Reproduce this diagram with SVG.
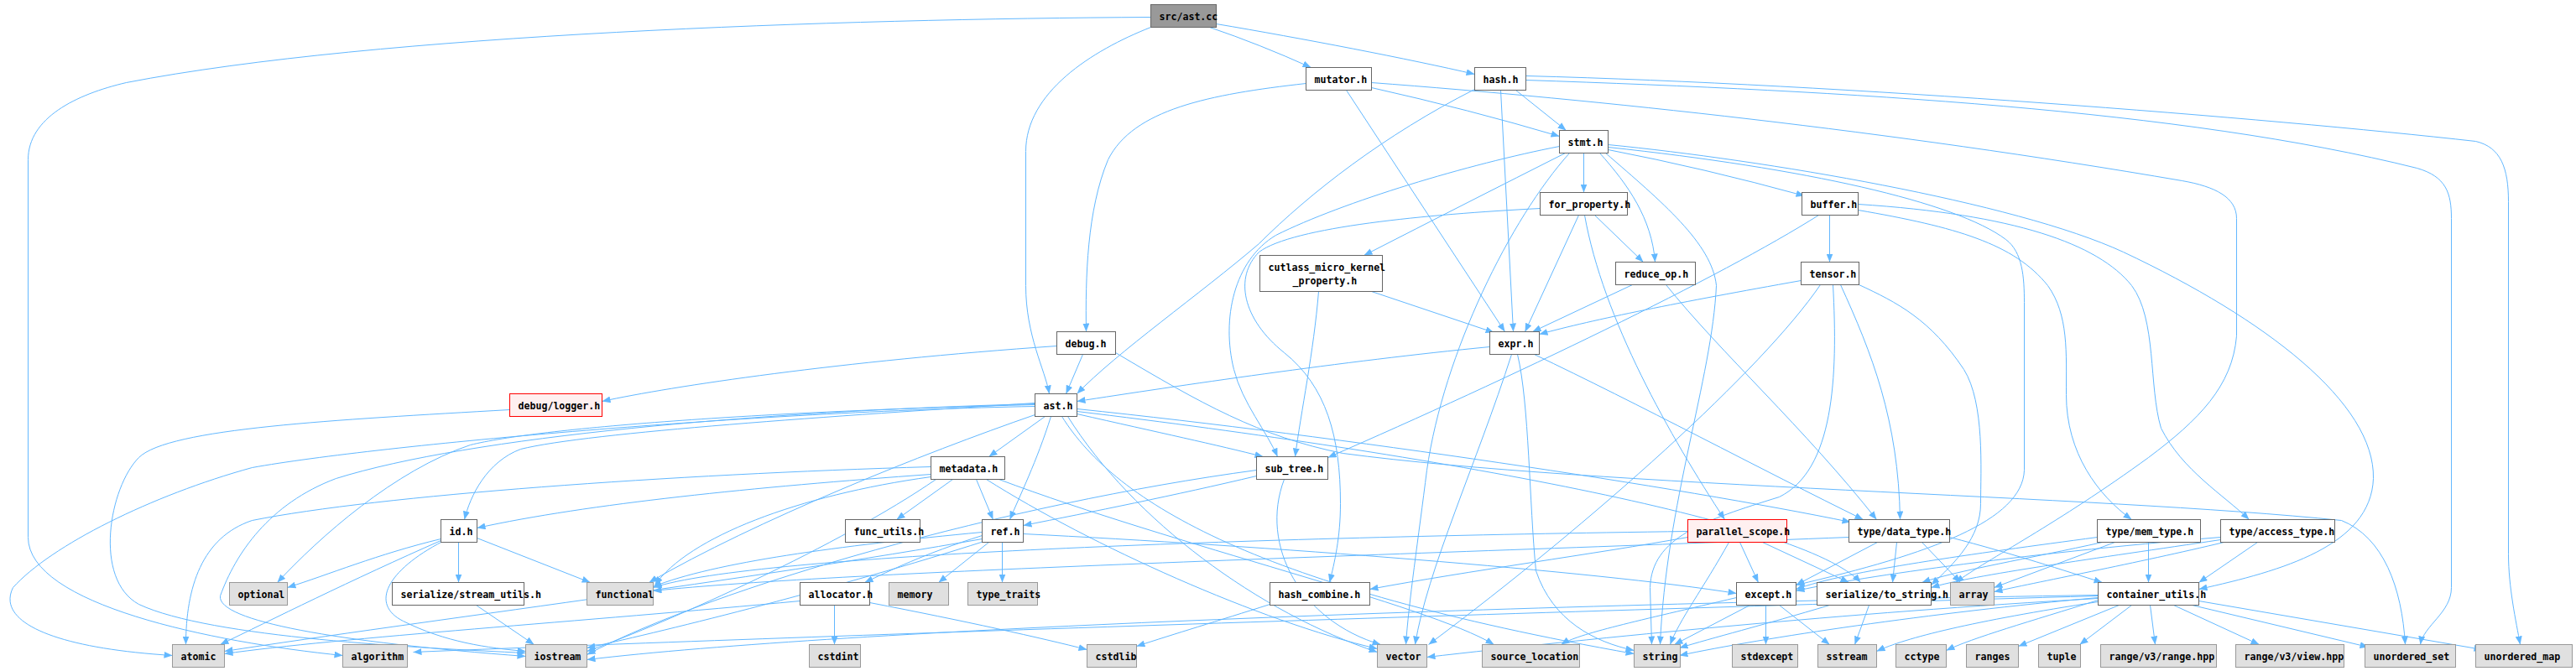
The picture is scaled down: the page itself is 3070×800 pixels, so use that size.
<svg xmlns="http://www.w3.org/2000/svg" width="3070" height="800" viewBox="0 0 3070 800">
<defs>
<marker id="ah" markerUnits="userSpaceOnUse" markerWidth="10" markerHeight="8" viewBox="0 0 10 8" refX="10" refY="4" orient="auto"><path d="M0,0 L10,4 L0,8 z" fill="#63B8FF"/></marker>
<style>
.e path{fill:none;stroke:#63B8FF;stroke-width:1;marker-end:url(#ah)}
.n rect{fill:#FFFFFF;stroke:#666666;stroke-width:1}
.s rect{fill:#E0E0E0;stroke:#999999;stroke-width:1}
.r rect{fill:#FFF0F0;stroke:#FF0000;stroke-width:1}
.root rect{fill:#999999;stroke:#666666;stroke-width:1}
text{font-family:"DejaVu Sans Mono","Liberation Mono",monospace;font-size:11.6px;font-weight:bold;fill:#000000}
</style>
</defs>
<rect x="0" y="0" width="3070" height="800" fill="#FFFFFF"/>
<g transform="translate(0.5,0.5)">
<g id="edges" class="e">
<path d="M1371,20 C1000,22 450,40 150,98 C90,112 33,140 33,190 L33,640 C33,720 250,765 408,781"/>
<path d="M1371,32 C1300,60 1222,110 1222,180 L1222,340 C1222,400 1245,440 1250,469"/>
<path d="M1441,32 Q1500,52 1562,80"/>
<path d="M1449,28 C1550,45 1680,70 1757,88"/>
<path d="M1556,99 C1440,112 1350,130 1320,190 C1295,250 1293,330 1294,395"/>
<path d="M1634,104 Q1750,130 1858,162"/>
<path d="M1604,107 L1793,395"/>
<path d="M1634,98 C1900,118 2250,155 2600,215 C2640,222 2665,235 2665,260 L2665,400 C2660,460 2620,500 2560,545 C2450,625 2370,665 2330,694"/>
<path d="M1806,107 L1866,155"/>
<path d="M1788,107 L1803,395"/>
<path d="M1757,106 C1650,160 1560,230 1500,290 C1430,350 1330,420 1283,469"/>
<path d="M1818,95 C2200,108 2600,130 2880,200 C2915,210 2921,230 2921,260 L2921,700 C2921,730 2888,745 2884,768"/>
<path d="M1818,90 C2200,100 2700,140 2950,168 C2980,175 2989,200 2989,240 L2989,660 C2989,700 2998,740 3003,768"/>
<path d="M1887,182 L1887,229"/>
<path d="M1916,178 Q2030,200 2150,233"/>
<path d="M1865,182 Q1750,240 1625,304"/>
<path d="M1906,182 C1940,220 1968,260 1972,312"/>
<path d="M1870,182 C1800,260 1720,420 1700,560 C1690,640 1678,720 1675,768"/>
<path d="M1913,182 C1980,240 2040,290 2045,340 C2040,450 1985,600 1978,768"/>
<path d="M1916,172 C2100,190 2400,240 2530,300 C2700,380 2830,480 2828,570 C2825,650 2720,680 2620,702"/>
<path d="M1916,175 C2150,200 2330,240 2390,285 C2410,300 2412,330 2412,360 L2412,560 C2410,620 2300,660 2140,697"/>
<path d="M1858,174 C1750,195 1600,240 1520,280 C1470,310 1455,380 1470,440 C1480,480 1510,515 1522,544"/>
<path d="M2180,256 L2180,312"/>
<path d="M2167,256 C2050,330 1800,450 1582,545"/>
<path d="M2214,243 C2400,255 2500,290 2540,340 C2570,380 2560,460 2575,510 C2600,560 2650,590 2680,619"/>
<path d="M2214,250 C2330,270 2400,290 2440,340 C2465,375 2462,420 2462,470 C2462,540 2500,590 2540,619"/>
<path d="M1634,347 L1780,396"/>
<path d="M1571,347 C1565,420 1550,490 1543,544"/>
<path d="M1881,256 L1817,395"/>
<path d="M1888,256 C1910,380 1990,520 2055,619"/>
<path d="M1900,256 L1958,312"/>
<path d="M1835,248 C1700,255 1540,270 1500,300 C1470,330 1480,380 1530,420 C1580,460 1597,520 1597,600 C1597,640 1590,670 1584,694"/>
<path d="M1945,339 L1826,395"/>
<path d="M1985,339 C2050,420 2150,510 2236,619"/>
<path d="M2146,334 C2000,360 1900,380 1834,398"/>
<path d="M2169,339 C2100,440 1900,620 1702,768"/>
<path d="M2184,339 C2190,450 2185,560 2120,592 C2030,620 1968,640 1966,700 L1968,768"/>
<path d="M2193,339 C2230,420 2262,500 2264,619"/>
<path d="M2215,339 C2260,360 2300,380 2340,440 C2365,480 2360,560 2360,600 C2360,640 2330,670 2301,697"/>
<path d="M1775,413 C1600,430 1400,460 1283,478"/>
<path d="M1801,422 C1760,550 1700,680 1686,768"/>
<path d="M1808,422 C1822,480 1822,600 1830,680 C1850,740 1900,765 1947,775"/>
<path d="M1828,422 C1950,480 2100,560 2220,619"/>
<path d="M1259,412 C1000,430 800,460 717,478"/>
<path d="M1290,422 L1270,469"/>
<path d="M1329,420 C1430,480 1500,520 1600,540 C1900,580 2500,590 2790,620 C2840,640 2862,700 2866,768"/>
<path d="M607,488 C400,500 200,510 165,545 C130,580 110,690 165,720 C250,760 500,772 626,778"/>
<path d="M1245,496 L1178,544"/>
<path d="M1252,496 C1235,550 1215,590 1203,619"/>
<path d="M1283,493 C1380,515 1450,530 1505,544"/>
<path d="M1233,480 C1000,495 700,515 620,535 C580,550 560,590 553,619"/>
<path d="M1233,482 C900,490 640,510 560,530 C470,560 380,640 330,694"/>
<path d="M1233,484 C900,490 450,530 300,557 C180,590 60,650 15,700 C-5,740 60,772 205,781"/>
<path d="M1233,481 C900,490 560,520 400,570 C320,600 280,660 262,710 C258,740 400,765 626,782"/>
<path d="M1233,494 C1100,540 900,620 773,694"/>
<path d="M1265,496 C1330,600 1500,700 1947,779"/>
<path d="M1272,496 C1350,620 1500,730 1641,777"/>
<path d="M1283,487 C1600,520 2000,580 2205,622"/>
<path d="M1283,490 C1700,540 2150,620 2217,694"/>
<path d="M1135,571 L1068,619"/>
<path d="M1163,571 L1183,619"/>
<path d="M1109,565 C900,580 700,600 568,629"/>
<path d="M1109,556 C800,565 450,590 300,620 C240,640 221,700 221,768"/>
<path d="M1109,568 C950,590 820,640 780,697"/>
<path d="M1115,571 C1000,650 800,740 699,776"/>
<path d="M1175,571 C1300,650 1500,740 1641,773"/>
<path d="M1190,571 C1400,650 1700,720 1780,768"/>
<path d="M1497,567 C1400,590 1300,610 1219,626"/>
<path d="M1530,571 C1500,650 1550,740 1645,768"/>
<path d="M1497,560 C1200,600 850,700 699,780"/>
<path d="M525,642 C450,660 390,685 342,700"/>
<path d="M546,646 L546,694"/>
<path d="M568,641 L703,694"/>
<path d="M525,644 C420,690 320,740 262,768"/>
<path d="M527,645 C460,680 440,720 480,740 C530,765 580,772 626,776"/>
<path d="M567,721 L636,768"/>
<path d="M1178,646 L1118,694"/>
<path d="M1194,646 L1194,694"/>
<path d="M1170,638 C1100,660 1060,680 1030,694"/>
<path d="M1170,634 C1000,650 850,670 778,699"/>
<path d="M1219,636 C1500,650 1900,680 2069,707"/>
<path d="M1170,642 C900,690 500,740 267,776"/>
<path d="M1172,645 C1000,700 800,750 699,772"/>
<path d="M994,721 L994,768"/>
<path d="M1036,718 C1150,740 1240,760 1295,774"/>
<path d="M953,716 C700,740 400,760 267,779"/>
<path d="M1513,720 C1450,740 1400,755 1354,770"/>
<path d="M2073,646 L2095,694"/>
<path d="M2060,646 C2030,700 2000,740 1990,768"/>
<path d="M2100,646 L2203,694"/>
<path d="M2011,633 C1500,640 900,660 778,700"/>
<path d="M2011,640 C1900,660 1750,680 1632,702"/>
<path d="M2237,646 L2140,697"/>
<path d="M2260,646 L2255,694"/>
<path d="M2290,646 L2336,694"/>
<path d="M2203,640 C1700,660 1000,680 778,704"/>
<path d="M2323,640 C2400,660 2460,680 2505,694"/>
<path d="M2560,646 L2560,694"/>
<path d="M2499,640 C2350,660 2200,680 2140,702"/>
<path d="M2505,646 C2420,665 2330,680 2290,694"/>
<path d="M2520,646 L2376,700"/>
<path d="M2690,646 L2620,694"/>
<path d="M2646,640 C2400,660 2200,690 2140,704"/>
<path d="M2646,643 C2500,665 2350,685 2301,700"/>
<path d="M2650,646 C2550,670 2420,695 2376,705"/>
<path d="M2104,721 L2104,768"/>
<path d="M2120,721 L2180,768"/>
<path d="M2085,721 L1995,768"/>
<path d="M2069,712 C1950,740 1880,755 1860,768"/>
<path d="M2227,721 L2210,768"/>
<path d="M2180,721 C2100,745 2040,760 2001,772"/>
<path d="M2500,715 C2420,740 2350,760 2319,775"/>
<path d="M2525,721 L2405,770"/>
<path d="M2540,721 L2478,768"/>
<path d="M2562,721 L2568,768"/>
<path d="M2590,721 L2692,768"/>
<path d="M2612,721 L2822,771"/>
<path d="M2620,716 L2958,774"/>
<path d="M2500,710 C1800,730 900,760 492,777"/>
<path d="M2500,712 C2300,730 2100,760 2001,781"/>
<path d="M2500,713 C2200,730 1900,760 1700,783"/>
<path d="M2500,717 C2350,740 2270,760 2236,776"/>
<path d="M2500,709 C1800,720 1000,750 699,786"/>
</g>
<g id="n_src_ast_cc" class="root"><rect x="1371" y="5" width="78" height="27"/><text x="1381" y="23">src/ast.cc</text></g>
<g id="n_mutator_h" class="n"><rect x="1556" y="80" width="78" height="27"/><text x="1566" y="98">mutator.h</text></g>
<g id="n_hash_h" class="n"><rect x="1757" y="80" width="61" height="27"/><text x="1767" y="98">hash.h</text></g>
<g id="n_stmt_h" class="n"><rect x="1858" y="155" width="58" height="27"/><text x="1868" y="173">stmt.h</text></g>
<g id="n_for_property_h" class="n"><rect x="1835" y="229" width="104" height="27"/><text x="1845" y="247">for_property.h</text></g>
<g id="n_buffer_h" class="n"><rect x="2147" y="229" width="67" height="27"/><text x="2157" y="247">buffer.h</text></g>
<g id="n_cutlass" class="n"><rect x="1501" y="304" width="146" height="43"/><text x="1511" y="322">cutlass_micro_kernel</text><text x="1540" y="338">_property.h</text></g>
<g id="n_reduce_op_h" class="n"><rect x="1925" y="312" width="95" height="27"/><text x="1935" y="330">reduce_op.h</text></g>
<g id="n_tensor_h" class="n"><rect x="2146" y="312" width="69" height="27"/><text x="2156" y="330">tensor.h</text></g>
<g id="n_expr_h" class="n"><rect x="1775" y="395" width="59" height="27"/><text x="1785" y="413">expr.h</text></g>
<g id="n_debug_h" class="n"><rect x="1259" y="395" width="70" height="27"/><text x="1269" y="413">debug.h</text></g>
<g id="n_ast_h" class="n"><rect x="1233" y="469" width="50" height="27"/><text x="1243" y="487">ast.h</text></g>
<g id="n_logger_h" class="r"><rect x="607" y="469" width="110" height="27"/><text x="617" y="487">debug/logger.h</text></g>
<g id="n_metadata_h" class="n"><rect x="1109" y="544" width="88" height="27"/><text x="1119" y="562">metadata.h</text></g>
<g id="n_sub_tree_h" class="n"><rect x="1497" y="544" width="85" height="27"/><text x="1507" y="562">sub_tree.h</text></g>
<g id="n_id_h" class="n"><rect x="525" y="619" width="43" height="27"/><text x="535" y="637">id.h</text></g>
<g id="n_func_utils_h" class="n"><rect x="1007" y="619" width="89" height="27"/><text x="1017" y="637">func_utils.h</text></g>
<g id="n_ref_h" class="n"><rect x="1170" y="619" width="49" height="27"/><text x="1180" y="637">ref.h</text></g>
<g id="n_parallel_scope_h" class="r"><rect x="2011" y="619" width="118" height="27"/><text x="2021" y="637">parallel_scope.h</text></g>
<g id="n_data_type_h" class="n"><rect x="2203" y="619" width="120" height="27"/><text x="2213" y="637">type/data_type.h</text></g>
<g id="n_mem_type_h" class="n"><rect x="2499" y="619" width="123" height="27"/><text x="2509" y="637">type/mem_type.h</text></g>
<g id="n_access_type_h" class="n"><rect x="2646" y="619" width="136" height="27"/><text x="2656" y="637">type/access_type.h</text></g>
<g id="n_optional" class="s"><rect x="273" y="694" width="69" height="27"/><text x="283" y="712">optional</text></g>
<g id="n_stream_utils_h" class="n"><rect x="467" y="694" width="157" height="27"/><text x="477" y="712">serialize/stream_utils.h</text></g>
<g id="n_functional" class="s"><rect x="699" y="694" width="79" height="27"/><text x="709" y="712">functional</text></g>
<g id="n_allocator_h" class="n"><rect x="953" y="694" width="83" height="27"/><text x="963" y="712">allocator.h</text></g>
<g id="n_memory" class="s"><rect x="1059" y="694" width="71" height="27"/><text x="1069" y="712">memory</text></g>
<g id="n_type_traits" class="s"><rect x="1153" y="694" width="83" height="27"/><text x="1163" y="712">type_traits</text></g>
<g id="n_hash_combine_h" class="n"><rect x="1513" y="694" width="119" height="27"/><text x="1523" y="712">hash_combine.h</text></g>
<g id="n_except_h" class="n"><rect x="2069" y="694" width="71" height="27"/><text x="2079" y="712">except.h</text></g>
<g id="n_to_string_h" class="n"><rect x="2165" y="694" width="136" height="27"/><text x="2175" y="712">serialize/to_string.h</text></g>
<g id="n_array" class="s"><rect x="2324" y="694" width="52" height="27"/><text x="2334" y="712">array</text></g>
<g id="n_container_utils_h" class="n"><rect x="2500" y="694" width="120" height="27"/><text x="2510" y="712">container_utils.h</text></g>
<g id="n_atomic" class="s"><rect x="205" y="768" width="62" height="27"/><text x="215" y="786">atomic</text></g>
<g id="n_algorithm" class="s"><rect x="408" y="768" width="77" height="27"/><text x="418" y="786">algorithm</text></g>
<g id="n_iostream" class="s"><rect x="626" y="768" width="73" height="27"/><text x="636" y="786">iostream</text></g>
<g id="n_cstdint" class="s"><rect x="964" y="768" width="61" height="27"/><text x="974" y="786">cstdint</text></g>
<g id="n_cstdlib" class="s"><rect x="1295" y="768" width="59" height="27"/><text x="1305" y="786">cstdlib</text></g>
<g id="n_vector" class="s"><rect x="1641" y="768" width="59" height="27"/><text x="1651" y="786">vector</text></g>
<g id="n_source_location" class="s"><rect x="1766" y="768" width="116" height="27"/><text x="1776" y="786">source_location</text></g>
<g id="n_string" class="s"><rect x="1947" y="768" width="55" height="27"/><text x="1957" y="786">string</text></g>
<g id="n_stdexcept" class="s"><rect x="2064" y="768" width="78" height="27"/><text x="2074" y="786">stdexcept</text></g>
<g id="n_sstream" class="s"><rect x="2166" y="768" width="70" height="27"/><text x="2176" y="786">sstream</text></g>
<g id="n_cctype" class="s"><rect x="2259" y="768" width="60" height="27"/><text x="2269" y="786">cctype</text></g>
<g id="n_ranges" class="s"><rect x="2343" y="768" width="62" height="27"/><text x="2353" y="786">ranges</text></g>
<g id="n_tuple" class="s"><rect x="2429" y="768" width="50" height="27"/><text x="2439" y="786">tuple</text></g>
<g id="n_range_hpp" class="s"><rect x="2503" y="768" width="138" height="27"/><text x="2513" y="786">range/v3/range.hpp</text></g>
<g id="n_view_hpp" class="s"><rect x="2664" y="768" width="129" height="27"/><text x="2674" y="786">range/v3/view.hpp</text></g>
<g id="n_unordered_set" class="s"><rect x="2818" y="768" width="108" height="27"/><text x="2828" y="786">unordered_set</text></g>
<g id="n_unordered_map" class="s"><rect x="2950" y="768" width="115" height="27"/><text x="2960" y="786">unordered_map</text></g>
</g>
</svg>
